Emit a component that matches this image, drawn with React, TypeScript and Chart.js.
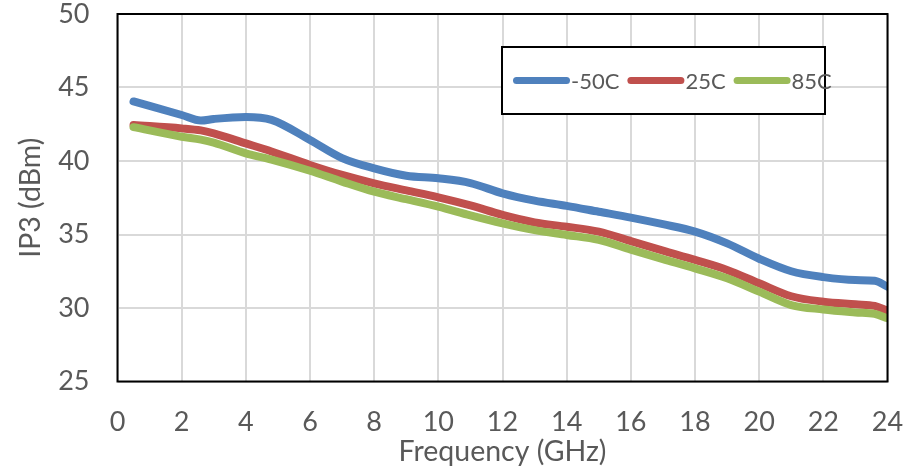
import React, { useEffect, useRef } from "react";
import { Chart, registerables } from "chart.js";

Chart.register(...registerables);

// Frequency points (GHz)
const freqGHz = [0.5, 2, 2.6, 3, 4, 4.8, 6, 7, 8, 9, 10, 11, 12, 13, 14, 15, 16, 17, 18, 19, 20, 21, 22, 23, 23.6, 24];

// IP3 (dBm) per temperature
const ip3Minus50C = [44.05, 43.13, 42.75, 42.86, 43.0, 42.8, 41.43, 40.2, 39.5, 39.0, 38.82, 38.5, 37.8, 37.3, 36.95, 36.55, 36.15, 35.7, 35.2, 34.4, 33.35, 32.5, 32.1, 31.9, 31.86, 31.45];
const ip3Plus25C = [42.45, 42.22, 42.08, 41.88, 41.2, 40.65, 39.73, 39.05, 38.48, 38.0, 37.53, 36.98, 36.33, 35.82, 35.53, 35.19, 34.55, 33.9, 33.27, 32.59, 31.68, 30.8, 30.43, 30.25, 30.14, 29.82];
const ip3Plus85C = [42.3, 41.65, 41.45, 41.25, 40.52, 40.1, 39.34, 38.6, 37.91, 37.4, 36.89, 36.3, 35.76, 35.3, 34.97, 34.63, 33.97, 33.33, 32.7, 32.02, 31.11, 30.2, 29.9, 29.7, 29.6, 29.3];

const seriesLabels = ["-50C", "25C", "85C"];
const seriesColors = ["#4F81BD", "#C0504D", "#9BBB59"];

const xMin = 0;
const xMax = 24;
const xStep = 2;
const yMin = 25;
const yMax = 50;
const yStep = 5;

const xTitle = "Frequency (GHz)";
const yTitle = "IP3 (dBm)";

const FONT = "Lato";
const TEXT = "#595959";

const toPoints = (ys: number[]) => freqGHz.map((x, i) => ({ x, y: ys[i] }));

const frameAndLegend = {
  id: "frameAndLegend",
  afterDraw(chart: any) {
    const ctx = chart.ctx as CanvasRenderingContext2D;
    const a = chart.chartArea;
    ctx.save();
    ctx.strokeStyle = "#000";
    ctx.lineWidth = 2;
    ctx.strokeRect(a.left, a.top, a.right - a.left, a.bottom - a.top);

    // legend box
    const bx = 502, by = 47, bw = 323, bh = 67;
    ctx.fillStyle = "#fff";
    ctx.fillRect(bx, by, bw, bh);
    ctx.strokeRect(bx, by, bw, bh);
    ctx.font = `22px ${FONT}`;
    ctx.textBaseline = "middle";
    ctx.textAlign = "left";
    const cy = by + bh / 2;
    let x = 513;
    chart.data.datasets.forEach((ds: any) => {
      ctx.strokeStyle = ds.borderColor;
      ctx.lineWidth = 7;
      ctx.lineCap = "round";
      ctx.beginPath();
      ctx.moveTo(x + 3.5, cy);
      ctx.lineTo(x + 53.5, cy);
      ctx.stroke();
      ctx.fillStyle = TEXT;
      ctx.fillText(ds.label, x + 58, cy + 1);
      x += 58 + ctx.measureText(ds.label).width + 8;
    });
    ctx.restore();
  },
};

export default function App() {
  const ref = useRef<HTMLCanvasElement | null>(null);

  useEffect(() => {
    if (!ref.current) return;
    const data = [ip3Minus50C, ip3Plus25C, ip3Plus85C];
    const chart = new Chart(ref.current, {
      type: "line",
      data: {
        datasets: data.map((ys, i) => ({
          label: seriesLabels[i],
          data: toPoints(ys),
          borderColor: seriesColors[i],
          backgroundColor: seriesColors[i],
          borderWidth: 8,
          pointRadius: 0,
          borderCapStyle: "round",
          borderJoinStyle: "round",
          cubicInterpolationMode: "monotone",
          fill: false,
          order: 2 - i,
        })),
      },
      options: {
        animation: false,
        responsive: true,
        maintainAspectRatio: false,
        layout: { padding: { left: 8, right: 30.5, top: 14, bottom: 0 } },
        plugins: { legend: { display: false }, tooltip: { enabled: false } },
        scales: {
          x: {
            type: "linear",
            min: xMin,
            max: xMax,
            ticks: {
              stepSize: xStep,
              color: TEXT,
              font: { family: FONT, size: 27, lineHeight: 1 },
              padding: 0,
              maxRotation: 0,
              autoSkip: false,
            },
            grid: { color: "#D9D9D9", lineWidth: 2, drawTicks: true, tickLength: 27, tickColor: "rgba(0,0,0,0)" },
            border: { display: false },
            title: {
              display: true,
              text: xTitle,
              color: TEXT,
              font: { family: FONT, size: 28.5, lineHeight: 1 },
              padding: { top: 0, bottom: 6 },
            },
            afterFit: (s: any) => {
              s.height = 90.5;
            },
          },
          y: {
            min: yMin,
            max: yMax,
            ticks: {
              stepSize: yStep,
              color: TEXT,
              font: { family: FONT, size: 27, lineHeight: 1 },
              padding: 0,
            },
            grid: { color: "#D9D9D9", lineWidth: 2, drawTicks: true, tickLength: 28, tickColor: "rgba(0,0,0,0)" },
            border: { display: false },
            title: {
              display: true,
              text: yTitle,
              color: TEXT,
              font: { family: FONT, size: 28.5, lineHeight: 1 },
              padding: { top: 9, bottom: 0 },
            },
            afterFit: (s: any) => {
              s.width = 109.5;
            },
          },
        },
      },
      plugins: [frameAndLegend],
    } as any);
    return () => chart.destroy();
  }, []);

  return (
    <div style={{ position: "absolute", left: 0, top: 0, width: 918, height: 472, background: "#fff" }}>
      <canvas ref={ref} />
    </div>
  );
}
